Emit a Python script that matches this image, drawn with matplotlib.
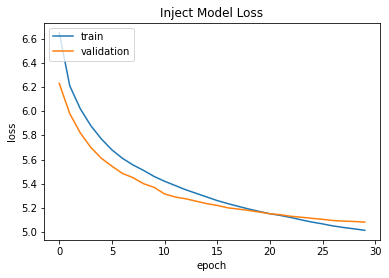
import matplotlib.pyplot as plt
from matplotlib.ticker import MultipleLocator

epochs = list(range(30))
train = [6.65, 6.21, 6.02, 5.88, 5.77, 5.68, 5.61, 5.555, 5.51, 5.46,
         5.42, 5.385, 5.35, 5.32, 5.29, 5.26, 5.235, 5.212, 5.19, 5.17,
         5.151, 5.137, 5.12, 5.10, 5.082, 5.067, 5.05, 5.037, 5.026, 5.014]
validation = [6.23, 5.98, 5.82, 5.70, 5.61, 5.545, 5.485, 5.45, 5.40, 5.37,
              5.315, 5.29, 5.275, 5.255, 5.235, 5.22, 5.20, 5.19, 5.178, 5.165,
              5.151, 5.143, 5.13, 5.122, 5.113, 5.105, 5.095, 5.09, 5.087, 5.082]

fig = plt.figure(figsize=(389/72, 278/72), dpi=72)
plt.plot(epochs, train, label='train')
plt.plot(epochs, validation, label='validation')
plt.title('Inject Model Loss')
plt.xlabel('epoch')
plt.ylabel('loss')
plt.legend(loc='upper left')
plt.gca().yaxis.set_major_locator(MultipleLocator(0.2))
plt.subplots_adjust(left=0.113, right=0.977, top=0.918, bottom=0.136)
plt.savefig('out.png', dpi=72)
